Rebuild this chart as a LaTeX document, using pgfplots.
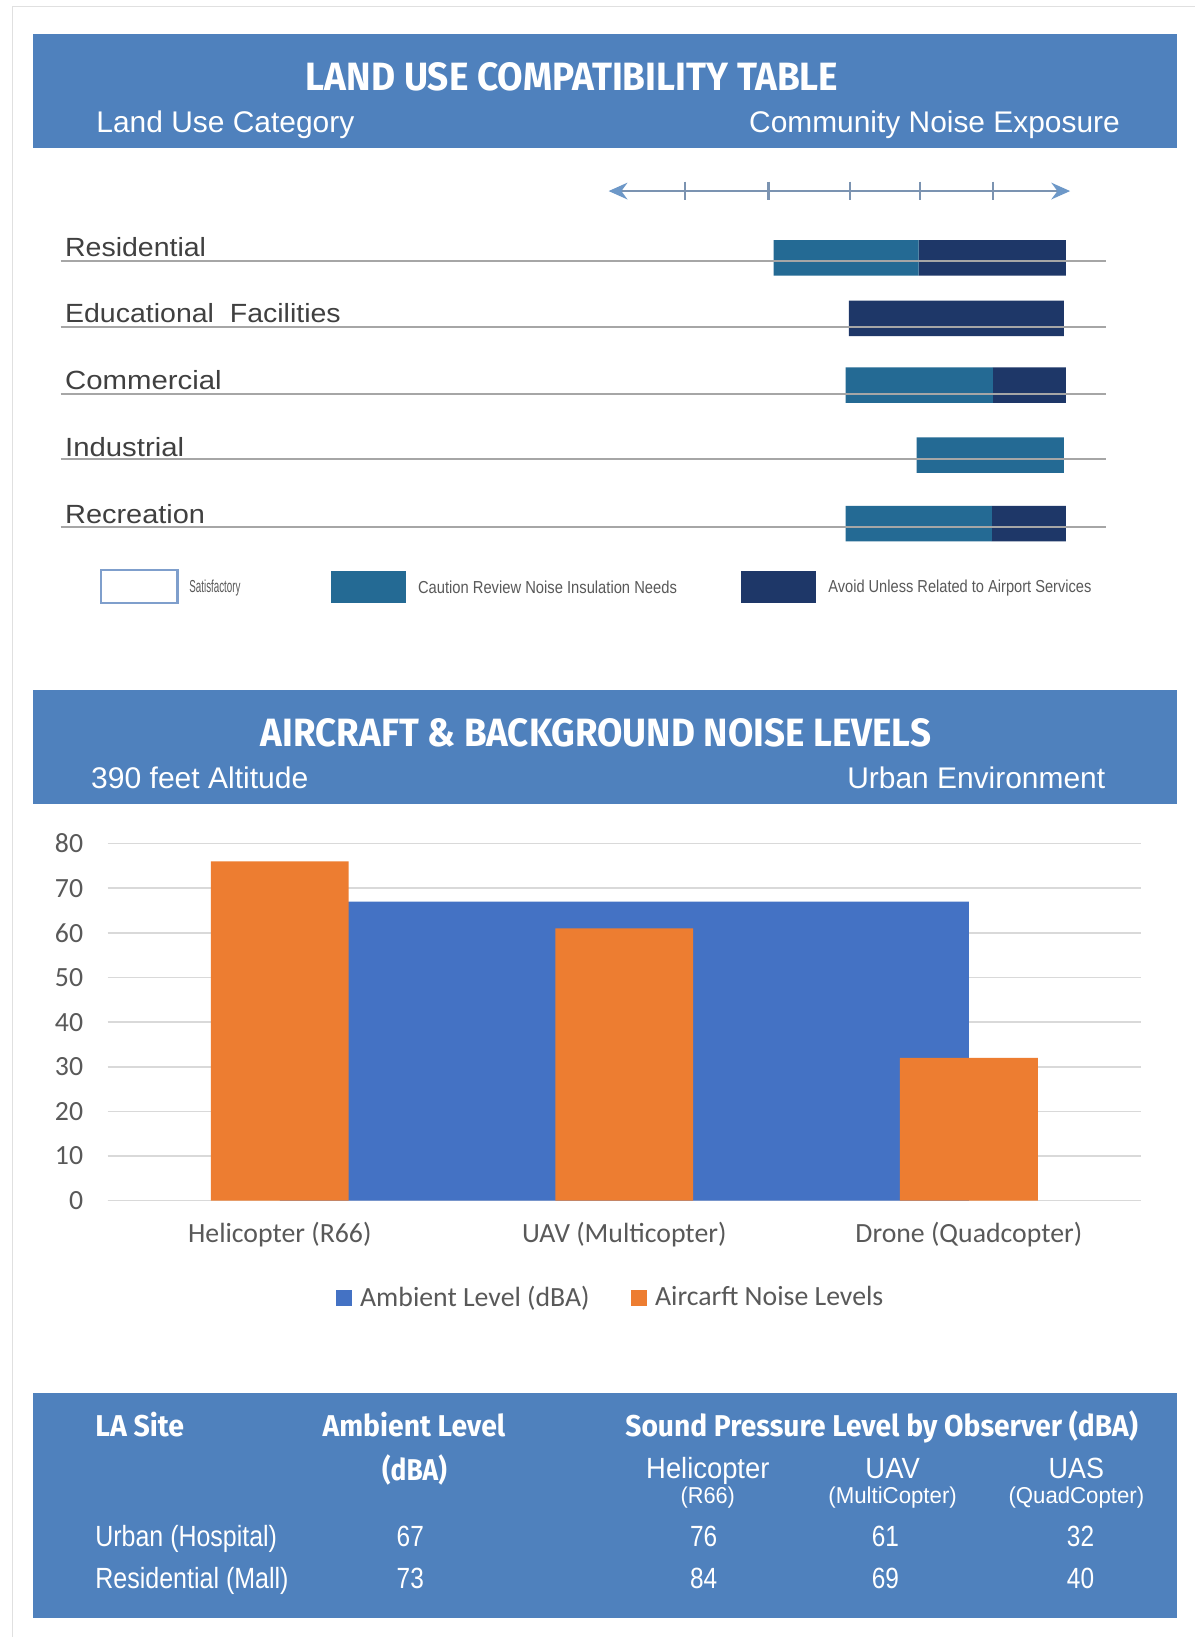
\documentclass[border=0pt]{standalone}
\usepackage{fontspec}
\setmainfont{Liberation Sans}
\newfontfamily\dinfont{Fira Sans}
\newfontfamily\calfont{Carlito}
\usepackage{graphicx}
\usepackage{pgfplots}
\pgfplotsset{compat=1.18}
\usetikzlibrary{arrows.meta}

\definecolor{hdr}{HTML}{4F81BD}
\definecolor{caut}{HTML}{246A94}
\definecolor{avoid}{HTML}{1E3768}
\definecolor{arr}{HTML}{7B93B1}
\definecolor{arrhead}{HTML}{6D98C8}
\definecolor{rulec}{HTML}{A6A6A6}
\definecolor{amb}{HTML}{4472C4}
\definecolor{acn}{HTML}{ED7D31}
\definecolor{gridc}{HTML}{D9D9D9}
\definecolor{txt}{HTML}{595959}
\definecolor{lbl}{HTML}{404040}
\definecolor{satb}{HTML}{7F9FCC}

\newcommand\fw[3]{\resizebox{#1}{\height}{\fontsize{#2}{#2}\selectfont #3}}

\begin{document}
\begin{tikzpicture}
\begin{scope}[x=0.5pt,y=-0.5pt]
\useasboundingbox (0,0) rectangle (1145,1568);
\fill[white] (0,0) rectangle (1145,1568);
\draw[black!12, line width=0.7pt] (12,1568) -- (12,6) -- (1145,6);

% ---------- header 1
\fill[hdr] (32,33) rectangle (1127,142);
\node[white, inner sep=0] at (548,74) {\fw{255pt}{18.9pt}{\dinfont\bfseries LAND USE COMPATIBILITY TABLE}};
\node[white, inner sep=0, anchor=base west] at (92,127) {\fw{123.5pt}{14.3pt}{Land Use Category}};
\node[white, inner sep=0, anchor=base east] at (1073,127) {\fw{177.5pt}{14.3pt}{Community Noise Exposure}};

% row labels
\node[lbl, inner sep=0, anchor=base west] at (62,246) {\fw{67.5pt}{12.6pt}{Residential}};
\node[lbl, inner sep=0, anchor=base west] at (62,309) {\fw{132pt}{12.6pt}{Educational\ \ Facilities}};
\node[lbl, inner sep=0, anchor=base west] at (62,373) {\fw{75pt}{12.6pt}{Commercial}};
\node[lbl, inner sep=0, anchor=base west] at (62,437) {\fw{57pt}{12.6pt}{Industrial}};
\node[lbl, inner sep=0, anchor=base west] at (62,501) {\fw{67pt}{12.6pt}{Recreation}};

% land-use legend
\draw[satb, line width=1pt, fill=white] (97,546) rectangle (170,578);
\fill[caut] (317,547) rectangle (389,578);
\fill[avoid] (710,547) rectangle (782,578);
\node[txt, inner sep=0, anchor=west] at (181,563) {\fw{24.5pt}{8.3pt}{Satisfactory}};
\node[txt, inner sep=0, anchor=west] at (400,563) {\fw{124pt}{8.3pt}{Caution Review Noise Insulation Needs}};
\node[txt, inner sep=0, anchor=west] at (793,563) {\fw{126pt}{8.3pt}{Avoid Unless Related to Airport Services}};

% ---------- header 2
\fill[hdr] (32,661) rectangle (1127,770);
\node[white, inner sep=0] at (571,702) {\fw{321pt}{18.9pt}{\dinfont\bfseries AIRCRAFT \& BACKGROUND NOISE LEVELS}};
\node[white, inner sep=0, anchor=base west] at (87,755) {\fw{104pt}{14.3pt}{390 feet Altitude}};
\node[white, inner sep=0, anchor=base east] at (1059,755) {\fw{123.5pt}{14.3pt}{Urban Environment}};

% ---------- bottom table
\fill[hdr] (32,1334) rectangle (1127,1550);
\node[white, inner sep=0, anchor=base west] at (91,1376) {\fw{42.5pt}{14.4pt}{\dinfont\bfseries LA Site}};
\node[white, inner sep=0, anchor=base] at (396.5,1376) {\fw{87.5pt}{14.4pt}{\dinfont\bfseries Ambient Level}};
\node[white, inner sep=0, anchor=base] at (397,1418) {\fw{31pt}{14.4pt}{\dinfont\bfseries (dBA)}};
\node[white, inner sep=0, anchor=base] at (844.5,1376) {\fw{245.5pt}{14.4pt}{\dinfont\bfseries Sound Pressure Level by Observer (dBA)}};

\node[white, inner sep=0, anchor=base] at (678,1416) {\fw{59pt}{14pt}{Helicopter}};
\node[white, inner sep=0, anchor=base] at (855,1416) {\fw{26pt}{14pt}{UAV}};
\node[white, inner sep=0, anchor=base] at (1031,1416) {\fw{26.5pt}{14pt}{UAS}};
\node[white, inner sep=0, anchor=base] at (678,1440) {\fw{26pt}{11pt}{(R66)}};
\node[white, inner sep=0, anchor=base] at (855,1440) {\fw{61.5pt}{11pt}{(MultiCopter)}};
\node[white, inner sep=0, anchor=base] at (1031,1440) {\fw{65pt}{11pt}{(QuadCopter)}};

\node[white, inner sep=0, anchor=base west] at (91,1481) {\fw{87pt}{14pt}{Urban (Hospital)}};
\node[white, inner sep=0, anchor=base west] at (91,1522) {\fw{92.5pt}{14pt}{Residential (Mall)}};
\node[white, inner sep=0, anchor=base] at (393,1481) {\fw{13pt}{14pt}{67}};
\node[white, inner sep=0, anchor=base] at (674,1481) {\fw{13pt}{14pt}{76}};
\node[white, inner sep=0, anchor=base] at (848,1481) {\fw{13pt}{14pt}{61}};
\node[white, inner sep=0, anchor=base] at (1035,1481) {\fw{13pt}{14pt}{32}};
\node[white, inner sep=0, anchor=base] at (393,1522) {\fw{13pt}{14pt}{73}};
\node[white, inner sep=0, anchor=base] at (674,1522) {\fw{13pt}{14pt}{84}};
\node[white, inner sep=0, anchor=base] at (848,1522) {\fw{13pt}{14pt}{69}};
\node[white, inner sep=0, anchor=base] at (1035,1522) {\fw{13pt}{14pt}{40}};
\end{scope}

% ---------- land-use bars (pixel-unit axis)
\begin{axis}[at={(29pt,-80pt)}, anchor=north west, scale only axis,
  width=500.5pt, height=190pt, xmin=58, xmax=1059, ymin=160, ymax=540,
  y dir=reverse, hide axis, clip=false, xbar stacked, bar width=17pt]
  \pgfplotsinvokeforeach{250,313,377,440,505}{
    \draw[rulec, line width=1pt] (axis cs:58,#1) -- (axis cs:1059,#1);}
  \draw[arr, line width=0.9pt, {Stealth[length=9pt,width=8pt,color=arrhead]}-{Stealth[length=9pt,width=8pt,color=arrhead]}]
    (axis cs:583,183) -- (axis cs:1025,183);
  \pgfplotsinvokeforeach{656,736,814,881,951}{
    \draw[arr, line width=1.2pt] (axis cs:#1,174) -- (axis cs:#1,192);}
  \addplot[draw=none, fill=none] coordinates {(741,247) (813,305) (810,369) (878,436) (810,501.5)};
  \addplot[fill=caut, draw=none] coordinates {(139,247) (0,305) (141,369) (141,436) (140,501.5)};
  \addplot[fill=avoid, draw=none] coordinates {(141,247) (206,305) (70,369) (0,436) (71,501.5)};
\end{axis}

% ---------- bar chart
\begin{axis}[at={(51.5pt,-575pt)}, anchor=south west, scale only axis,
  width=495pt, height=171pt, xmin=-0.5, xmax=2.5, ymin=0, ymax=80,
  ytick={0,10,...,80}, xtick={0,1,2},
  xticklabels={Helicopter (R66), UAV (Multicopter), Drone (Quadcopter)},
  /pgf/number format/assume math mode=true,
  ymajorgrids, grid style={gridc, line width=0.75pt},
  axis x line*=bottom, axis y line*=left,
  x axis line style={gridc, line width=0.75pt, -},
  y axis line style={draw=none},
  major tick length=0pt, tick style={draw=none},
  tick label style={font=\fontsize{13.3pt}{14pt}\selectfont\calfont, text=txt},
  yticklabel style={anchor=east, inner sep=0pt, xshift=-11.5pt},
  xticklabel style={anchor=center, inner sep=0pt, yshift=-16.5pt},
  legend style={at={(0.49,-0.272)}, anchor=center, draw=none, fill=none,
    font=\fontsize{13.3pt}{14pt}\selectfont\calfont, text=txt,
    nodes={inner xsep=4pt},
    /tikz/every even column/.append style={column sep=16pt}},
  legend columns=2]
  \addplot[fill=amb, draw=none, forget plot] coordinates {(0,67) (1,67) (2,67)} \closedcycle;
  \addplot[ybar, bar width=66pt, fill=acn, draw=none, forget plot] coordinates {(0,76) (1,61) (2,32)};
  \addlegendimage{legend image code/.code={\fill[amb] (0pt,-3.5pt) rectangle (7pt,3.5pt);}}
  \addlegendentry{Ambient Level (dBA)}
  \addlegendimage{legend image code/.code={\fill[acn] (0pt,-3.5pt) rectangle (7pt,3.5pt);}}
  \addlegendentry{Aircarft Noise Levels}
\end{axis}
\end{tikzpicture}
\end{document}
